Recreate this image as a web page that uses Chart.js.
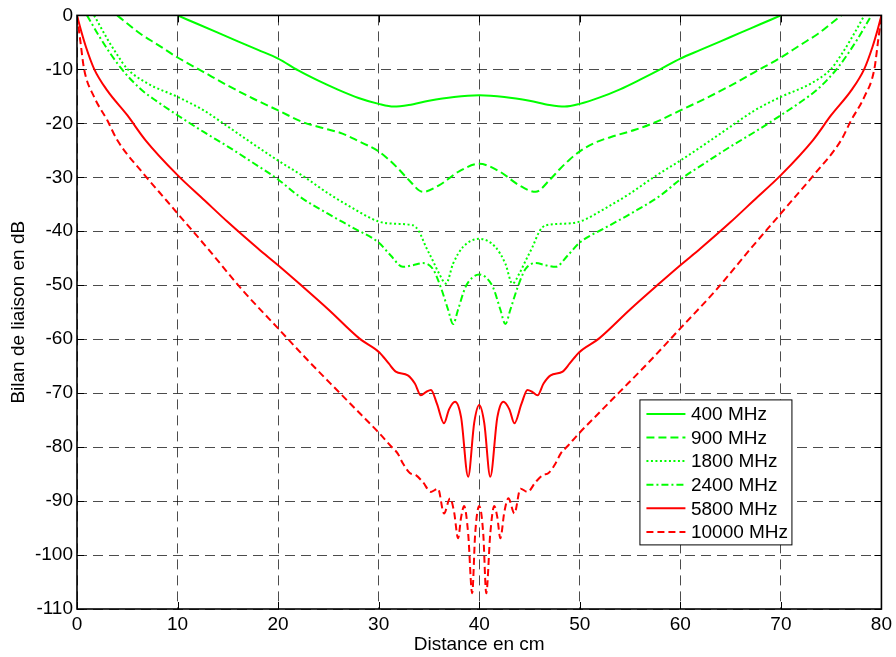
<!DOCTYPE html>
<html>
<head>
<meta charset="utf-8">
<title>Bilan de liaison</title>
<script src="https://cdn.jsdelivr.net/npm/chart.js@4.4.1/dist/chart.umd.min.js"></script>
<style>
    html, body { margin: 0; padding: 0; background: #fff; }
    #wrap { position: relative; width: 896px; height: 657px; }
</style>
</head>
<body>
<div id="wrap"><canvas id="bilanChart"></canvas></div>
<script>
/* DATA */
const xTickValues = [0, 10, 20, 30, 40, 50, 60, 70, 80];
const yTickValues = [0, -10, -20, -30, -40, -50, -60, -70, -80, -90, -100, -110];
const seriesLabels = ["400 MHz", "900 MHz", "1800 MHz", "2400 MHz", "5800 MHz", "10000 MHz"];

const dist400 = [10, 12, 14, 16, 18, 20, 22, 24, 26, 28, 30, 31.5, 33, 35, 37.5, 40, 42.5, 45, 47, 48.5, 50, 52, 54, 56, 58, 60, 62, 64, 66, 68, 70];
const db400 = [0, -1.6, -3.2, -4.8, -6.4, -8.0, -10.2, -12.1, -13.8, -15.3, -16.4, -16.9, -16.6, -15.8, -15.1, -14.8, -15.1, -15.8, -16.6, -16.9, -16.4, -15.2, -13.7, -11.9, -10.0, -8.0, -6.4, -4.8, -3.2, -1.6, 0];

const dist900 = [4, 5, 6.3, 8, 10, 12.6, 15, 17.5, 20, 22.5, 24.5, 26.4, 28, 30, 31, 32, 33, 34.4, 36, 38, 40, 42, 44, 45.6, 47, 48, 49, 50, 51.5, 53.5, 55.5, 57.4, 60, 62.5, 65, 67.4, 70, 72, 73.7, 75, 76];
const db900 = [0, -1.5, -3.4, -5.4, -7.8, -10.5, -13.0, -15.4, -17.6, -19.8, -20.9, -21.9, -23.3, -25.2, -26.7, -28.5, -30.5, -32.7, -31.5, -28.9, -27.5, -28.9, -31.5, -32.7, -30.5, -28.5, -26.7, -25.2, -23.6, -22.3, -21.2, -19.9, -17.6, -15.4, -13.0, -10.5, -7.8, -5.4, -3.4, -1.5, 0];

const dist1800 = [1.7, 3, 4, 5, 7, 10, 12.6, 15, 17.5, 20, 22.5, 25, 27.5, 30, 31.5, 33.4, 34, 34.7, 35.4, 36, 36.7, 37.4, 38.4, 40, 41.6, 42.6, 43.3, 44, 44.6, 45.3, 46, 46.6, 48.5, 50, 52.5, 55, 57.5, 60, 62.5, 65, 67.4, 70, 73, 75, 76, 77, 78.3];
const db1800 = [0, -4.3, -7.3, -9.9, -12.6, -15.1, -17.6, -20.6, -23.8, -26.9, -29.8, -33.0, -35.8, -38.2, -38.6, -38.9, -40.0, -42.9, -45.5, -47.8, -49.7, -46.0, -42.9, -41.4, -42.9, -46.0, -49.7, -47.8, -45.5, -42.9, -40.0, -38.9, -38.6, -38.2, -35.8, -33.0, -29.8, -26.9, -23.8, -20.6, -17.6, -15.1, -12.6, -9.9, -7.3, -4.3, 0];

const dist2400 = [1, 2.35, 4.3, 6.3, 8, 10, 12.6, 15, 17.5, 20, 22, 25, 27.5, 30, 31.2, 32.4, 33.4, 34.4, 35.4, 36.2, 36.9, 37.4, 37.9, 38.6, 39.3, 40, 40.7, 41.4, 42.1, 42.6, 43.1, 43.8, 44.6, 45.6, 46.6, 47.6, 48.8, 50, 52.5, 55, 58, 60, 62.5, 65, 67.4, 70, 72, 73.7, 75.7, 77.65, 79];
const db2400 = [0, -4.3, -9.6, -13.6, -16.0, -18.5, -21.6, -24.3, -27.3, -30.4, -33.4, -36.8, -39.4, -42.1, -44.5, -46.6, -46.3, -45.9, -47.0, -50.5, -54.5, -57.2, -54.5, -50.5, -48.6, -48.0, -48.6, -50.5, -54.5, -57.2, -54.5, -50.5, -47.0, -45.9, -46.3, -46.6, -44.5, -42.1, -39.4, -36.8, -33.4, -30.4, -27.3, -24.3, -21.6, -18.5, -16.0, -13.6, -9.6, -4.3, 0];

const dist5800 = [0, 0.4, 0.9, 1.7, 3, 5, 6.8, 10, 12.7, 15, 18, 20, 22.1, 25, 28.1, 30.1, 31, 31.7, 32.9, 33.6, 34.2, 34.7, 35.2, 35.8, 36.5, 37, 37.6, 38.2, 38.9, 39.5, 40, 40.5, 41.1, 41.8, 42.4, 43, 43.5, 44.2, 44.8, 45.3, 45.8, 46.4, 47.1, 48.3, 49, 49.9, 51.9, 55, 57.9, 60, 62, 65, 67.3, 70, 73.2, 75, 77, 78.3, 79.1, 79.6, 80];
const db5800 = [0, -2.8, -5.9, -9.9, -13.9, -18.5, -23.1, -29.6, -34.3, -38.3, -43.2, -46.3, -49.7, -54.5, -59.9, -62.5, -64.5, -66.0, -66.7, -68.2, -70.4, -69.8, -69.4, -72.0, -75.6, -73.0, -71.6, -74.5, -85.5, -75.5, -72.2, -75.5, -85.5, -74.5, -71.6, -73.0, -75.6, -72.0, -69.4, -69.8, -70.4, -68.2, -66.7, -66.0, -64.5, -62.5, -59.9, -54.5, -49.7, -46.3, -43.2, -38.3, -34.3, -29.6, -23.1, -18.5, -13.9, -9.9, -5.9, -2.8, 0];

const dist10000 = [0, 0.35, 0.7, 1.7, 3, 4, 6.6, 8.9, 10, 13, 16.5, 20, 23, 26.1, 28, 30.1, 31.2, 31.9, 32.4, 33.1, 33.7, 34.4, 35.2, 35.9, 36.5, 37.1, 37.5, 37.9, 38.2, 38.5, 38.9, 39.3, 39.6, 40, 40.4, 40.7, 41.1, 41.5, 41.8, 42.1, 42.5, 42.9, 43.5, 44.1, 44.8, 45.6, 46.3, 46.9, 47.6, 48.1, 48.8, 49.9, 52, 53.9, 57, 60, 63.5, 67, 70, 71.1, 73.4, 76, 77, 78.3, 79.3, 79.65, 80];
const db10000 = [0, -5.0, -9.9, -15.1, -19.4, -23.1, -29.3, -34.3, -36.7, -43.2, -51.0, -58.0, -64.0, -69.9, -73.5, -77.5, -79.8, -81.2, -83.0, -84.8, -85.2, -86.5, -88.3, -87.7, -92.3, -89.5, -92.0, -96.9, -93.0, -90.9, -96.0, -107.1, -96.0, -90.9, -96.0, -107.1, -96.0, -90.9, -93.0, -96.9, -92.0, -89.5, -92.3, -87.7, -88.3, -86.5, -85.2, -84.8, -83.0, -81.2, -79.8, -77.5, -73.5, -69.9, -64.0, -58.0, -51.0, -43.2, -36.7, -34.3, -29.3, -23.1, -19.4, -15.1, -9.9, -5.0, 0];


/* STYLES */
const GREEN = "#00ff00";
const RED = "#ff0000";
const FONT_FAMILY = "'Liberation Sans', Arial, Helvetica, sans-serif";
const FONT_SIZE = 19;

function toPoints(xs, ys) {
    return xs.map((x, i) => ({ x: x, y: ys[i] }));
}

function makeSet(label, xs, ys, color, dash) {
    return {
        label: label,
        data: toPoints(xs, ys),
        borderColor: color,
        backgroundColor: color,
        borderWidth: 2,
        borderDash: dash,
        pointRadius: 0,
        fill: false,
        cubicInterpolationMode: "monotone"
    };
}


/* FRAME, INNER TICKS AND BOXED LEGEND (matlab look) */
const frameAndLegend = {
    id: "frameAndLegend",
    afterDatasetsDraw(chart) {
        const { ctx, chartArea: a, scales: { x, y } } = chart;
        ctx.save();
        ctx.setLineDash([]);
        ctx.strokeStyle = "#000";

        // ticks pointing inward
        ctx.lineWidth = 1;
        ctx.beginPath();
        xTickValues.forEach(v => {
            const px = Math.round(x.getPixelForValue(v)) + 0.5;
            ctx.moveTo(px, a.bottom); ctx.lineTo(px, a.bottom - 7);
            ctx.moveTo(px, a.top); ctx.lineTo(px, a.top + 7);
        });
        yTickValues.forEach(v => {
            const py = Math.round(y.getPixelForValue(v)) + 0.5;
            ctx.moveTo(a.left, py); ctx.lineTo(a.left + 7, py);
            ctx.moveTo(a.right, py); ctx.lineTo(a.right - 7, py);
        });
        ctx.stroke();

        // box
        ctx.lineWidth = 1.6;
        ctx.strokeRect(a.left, a.top, a.right - a.left, a.bottom - a.top);

        // legend
        const bx = a.right - 241.5, by = a.top + 384.5, bw = 152, bh = 145;
        ctx.fillStyle = "#fff";
        ctx.fillRect(bx, by, bw, bh);
        ctx.lineWidth = 1;
        ctx.strokeRect(bx, by, bw, bh);

        ctx.font = FONT_SIZE + "px " + FONT_FAMILY;
        ctx.textBaseline = "middle";
        ctx.textAlign = "left";
        chart.data.datasets.forEach((ds, i) => {
            const ry = by + 14 + i * 23.6;
            ctx.strokeStyle = ds.borderColor;
            ctx.lineWidth = 2;
            ctx.setLineDash(ds.borderDash || []);
            ctx.beginPath();
            ctx.moveTo(bx + 6.5, ry);
            ctx.lineTo(bx + 45.5, ry);
            ctx.stroke();
            ctx.setLineDash([]);
            ctx.fillStyle = "#000";
            ctx.fillText(ds.label, bx + 51, ry + 1);
        });
        ctx.restore();
    }
};


/* CHART */
function drawChart() {
    const ctx = document.getElementById("bilanChart").getContext("2d");

    new Chart(ctx, {
        type: "line",
        data: {
            datasets: [
                makeSet(seriesLabels[0], dist400, db400, GREEN, []),
                makeSet(seriesLabels[1], dist900, db900, GREEN, [8, 4]),
                makeSet(seriesLabels[2], dist1800, db1800, GREEN, [2, 2.5]),
                makeSet(seriesLabels[3], dist2400, db2400, GREEN, [7, 3, 2, 3]),
                makeSet(seriesLabels[4], dist5800, db5800, RED, []),
                makeSet(seriesLabels[5], dist10000, db10000, RED, [7, 4])
            ]
        },
        options: {
            responsive: true,
            maintainAspectRatio: false,
            animation: false,
            layout: { padding: { top: 15, right: 13, left: 0, bottom: 0 } },
            plugins: {
                legend: { display: false },
                tooltip: { enabled: false }
            },
            scales: {
                x: {
                    type: "linear",
                    min: 0,
                    max: 80,
                    afterBuildTicks: s => { s.ticks = xTickValues.map(v => ({ value: v })); },
                    afterFit: s => { s.height = 48; },
                    ticks: {
                        color: "#000",
                        padding: 4,
                        maxRotation: 0,
                        font: { family: FONT_FAMILY, size: FONT_SIZE }
                    },
                    grid: { color: "rgba(0,0,0,0.7)", lineWidth: 1, drawTicks: false },
                    border: { display: false, dash: [10, 6] },
                    title: {
                        display: true,
                        text: "Distance en cm",
                        color: "#000",
                        padding: { top: 0, bottom: 1 },
                        font: { family: FONT_FAMILY, size: FONT_SIZE }
                    }
                },
                y: {
                    type: "linear",
                    min: -110,
                    max: 0,
                    afterBuildTicks: s => { s.ticks = yTickValues.map(v => ({ value: v })); },
                    afterFit: s => { s.width = 77; },
                    ticks: {
                        color: "#000",
                        padding: 4,
                        font: { family: FONT_FAMILY, size: FONT_SIZE }
                    },
                    grid: { color: "rgba(0,0,0,0.7)", lineWidth: 1, drawTicks: false },
                    border: { display: false, dash: [10, 6] },
                    title: {
                        display: true,
                        text: "Bilan de liaison en dB",
                        color: "#000",
                        padding: { top: 7, bottom: 0 },
                        font: { family: FONT_FAMILY, size: FONT_SIZE }
                    }
                }
            }
        },
        plugins: [frameAndLegend]
    });
}

document.addEventListener("DOMContentLoaded", drawChart);
</script>
</body>
</html>
